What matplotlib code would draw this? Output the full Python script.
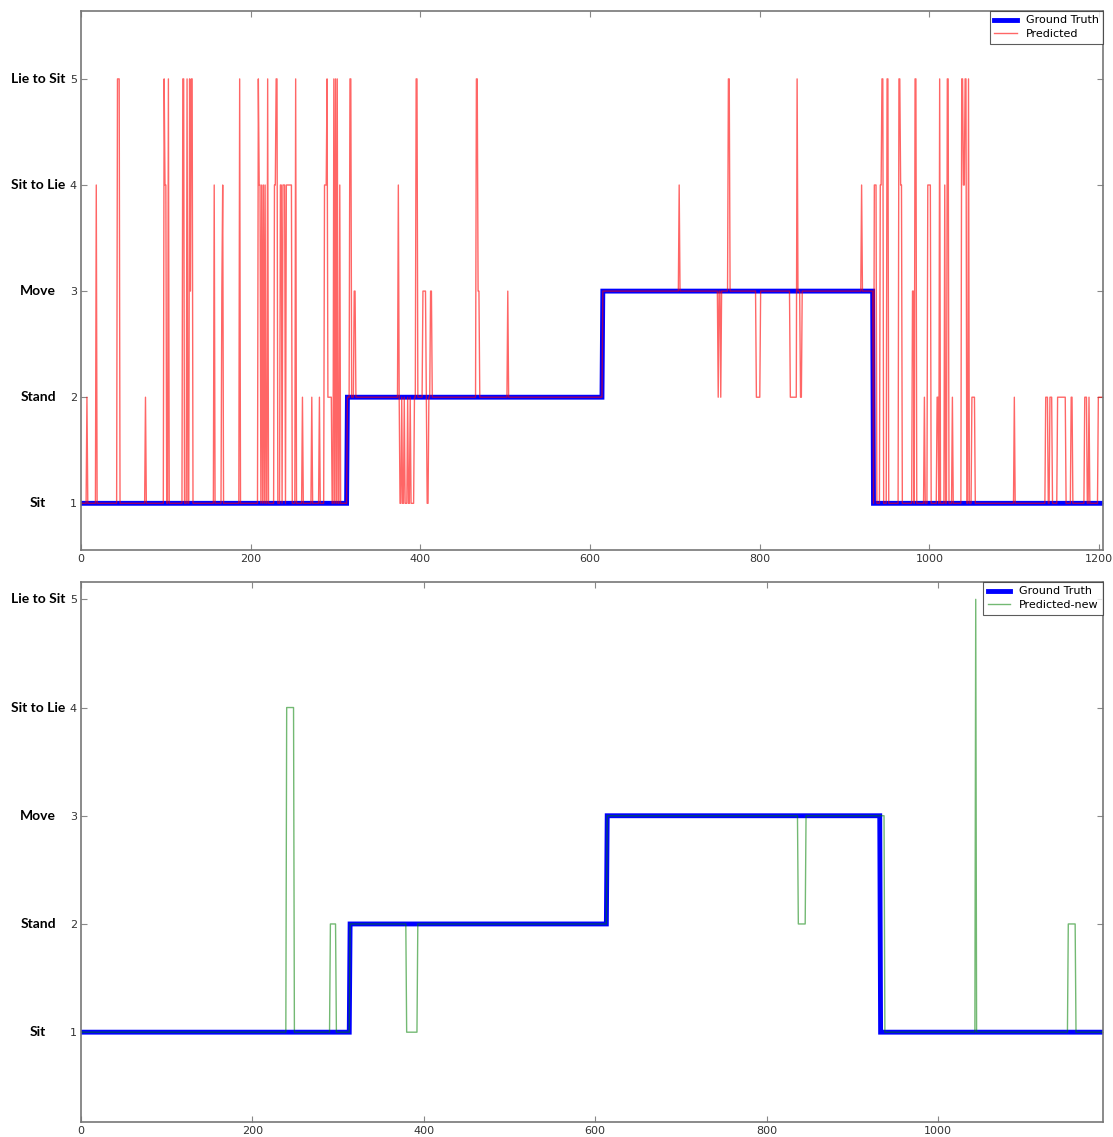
import numpy as np
import matplotlib
matplotlib.use("Agg")
import matplotlib.pyplot as plt
from matplotlib.transforms import blended_transform_factory

# ---- activity classes ----
class_levels = [1, 2, 3, 4, 5]
class_names = ["Sit", "Stand", "Move", "Sit to Lie", "Lie to Sit"]

# ---- upper panel: ground truth (run starts / levels) ----
top_n = 1205
top_gt_start = [0, 314, 615, 934]
top_gt_level = [1, 2, 3, 1]

# ---- upper panel: predicted, runs where it differs from ground truth ----
top_ev_start = [7, 18, 43, 76, 98, 99, 103, 120, 125, 128, 129, 130, 157, 166, 167,
                187, 209, 210, 213, 215, 217, 220, 228, 230, 235, 238, 242, 253, 261,
                272, 281, 287, 290, 291, 298, 300, 302, 305,
                317, 322, 374, 376, 379, 382, 386, 389, 395, 403, 408, 412, 466, 468, 503,
                705, 751, 754, 763, 796, 836, 844, 848, 920,
                935, 942, 944, 950, 964, 966, 980, 983, 994, 998, 1009, 1012, 1018, 1021,
                1027, 1038, 1040, 1042, 1046, 1050, 1100, 1137, 1142, 1151, 1167, 1183,
                1188, 1199]
top_ev_end = [7, 18, 45, 76, 98, 100, 103, 121, 125, 128, 129, 131, 157, 166, 167,
              187, 209, 211, 213, 215, 217, 220, 229, 231, 236, 240, 248, 253, 261,
              272, 281, 289, 290, 295, 298, 300, 302, 305,
              318, 323, 374, 377, 380, 384, 387, 392, 396, 406, 409, 413, 467, 469, 503,
              705, 751, 754, 764, 800, 843, 844, 849, 920,
              937, 943, 945, 951, 965, 967, 981, 984, 994, 1001, 1010, 1012, 1018, 1022,
              1027, 1039, 1041, 1043, 1046, 1053, 1100, 1139, 1144, 1160, 1168, 1185,
              1188, 1204]
top_ev_level = [2, 4, 5, 2, 5, 4, 5, 5, 5, 5, 3, 5, 4, 3, 4,
                5, 5, 4, 4, 4, 4, 5, 4, 5, 4, 4, 4, 5, 2,
                2, 2, 4, 5, 2, 5, 5, 5, 4,
                5, 3, 4, 1, 1, 1, 1, 1, 5, 3, 1, 3, 5, 3, 3,
                4, 2, 2, 5, 2, 2, 5, 2, 4,
                4, 4, 5, 5, 5, 4, 3, 5, 2, 4, 2, 5, 4, 5,
                2, 5, 4, 5, 5, 2, 2, 2, 2, 2, 2, 2,
                2, 2]

# ---- lower panel: ground truth ----
bot_n = 1193
bot_gt_start = [0, 314, 614, 933]
bot_gt_level = [1, 2, 3, 1]

# ---- lower panel: new predictor, runs where it differs ----
bot_ev_start = [240, 291, 380, 837, 933, 1044, 1152]
bot_ev_end = [248, 297, 392, 845, 937, 1044, 1160]
bot_ev_level = [4, 2, 1, 2, 3, 5, 2]


def runs_to_series(n, starts, levels):
    s = np.empty(n)
    bounds = list(starts) + [n]
    for i, lv in enumerate(levels):
        s[bounds[i]:bounds[i + 1]] = lv
    return s


def apply_events(base, starts, ends, levels):
    s = base.copy()
    for a, b, lv in zip(starts, ends, levels):
        s[a:b + 1] = lv
    return s


top_gt = runs_to_series(top_n, top_gt_start, top_gt_level)
top_pred = apply_events(top_gt, top_ev_start, top_ev_end, top_ev_level)
bot_gt = runs_to_series(bot_n, bot_gt_start, bot_gt_level)
bot_pred = apply_events(bot_gt, bot_ev_start, bot_ev_end, bot_ev_level)

W, H = 1113, 1137
fig = plt.figure(figsize=(W / 100, H / 100), dpi=100)
fig.patch.set_facecolor("white")

ax1 = fig.add_axes([81 / W, 1 - 550 / H, 1022 / W, 539 / H])
ax2 = fig.add_axes([81 / W, 1 - 1122 / H, 1022 / W, 540 / H])


def style_axes(ax, xmax, ylim, xticks):
    ax.set_xlim(0, xmax)
    ax.set_ylim(*ylim)
    ax.set_xticks(xticks)
    ax.set_yticks(class_levels)
    ax.tick_params(direction="in", length=4, width=0.8, color="#888888",
                   labelsize=8, labelcolor="#333333", top=True, right=True, pad=3)
    for sp in ax.spines.values():
        sp.set_color("#777777")
        sp.set_linewidth(1.2)
    tr = blended_transform_factory(fig.transFigure, ax.transData)
    for lv, name in zip(class_levels, class_names):
        ax.text(38 / W, lv, name, transform=tr, ha="center", va="center",
                fontsize=10, fontweight="bold", family="Lato", color="black")


def add_legend(ax):
    leg = ax.legend(loc="upper right", borderaxespad=0, fontsize=8, fancybox=False,
                    handlelength=2.0, borderpad=0.4, labelspacing=0.35)
    leg.get_frame().set_edgecolor("#333333")
    leg.get_frame().set_linewidth(0.8)
    return leg


x_top = np.arange(top_n)
ax1.plot(x_top, top_gt, color="#0000ff", lw=3.5, label="Ground Truth", solid_joinstyle="miter")
ax1.plot(x_top, top_pred, color="#ff0000", lw=1.0, alpha=0.6, label="Predicted")
style_axes(ax1, top_n - 0.5, (0.56, 5.64), [0, 200, 400, 600, 800, 1000, 1200])
add_legend(ax1)

x_bot = np.arange(bot_n)
ax2.plot(x_bot, bot_gt, color="#0000ff", lw=3.5, label="Ground Truth", solid_joinstyle="miter")
ax2.plot(x_bot, bot_pred, color="#008000", lw=1.0, alpha=0.55, label="Predicted-new")
style_axes(ax2, bot_n - 0.5, (0.17, 5.16), [0, 200, 400, 600, 800, 1000])
add_legend(ax2)

fig.savefig("out.png", dpi=100, facecolor="white")
